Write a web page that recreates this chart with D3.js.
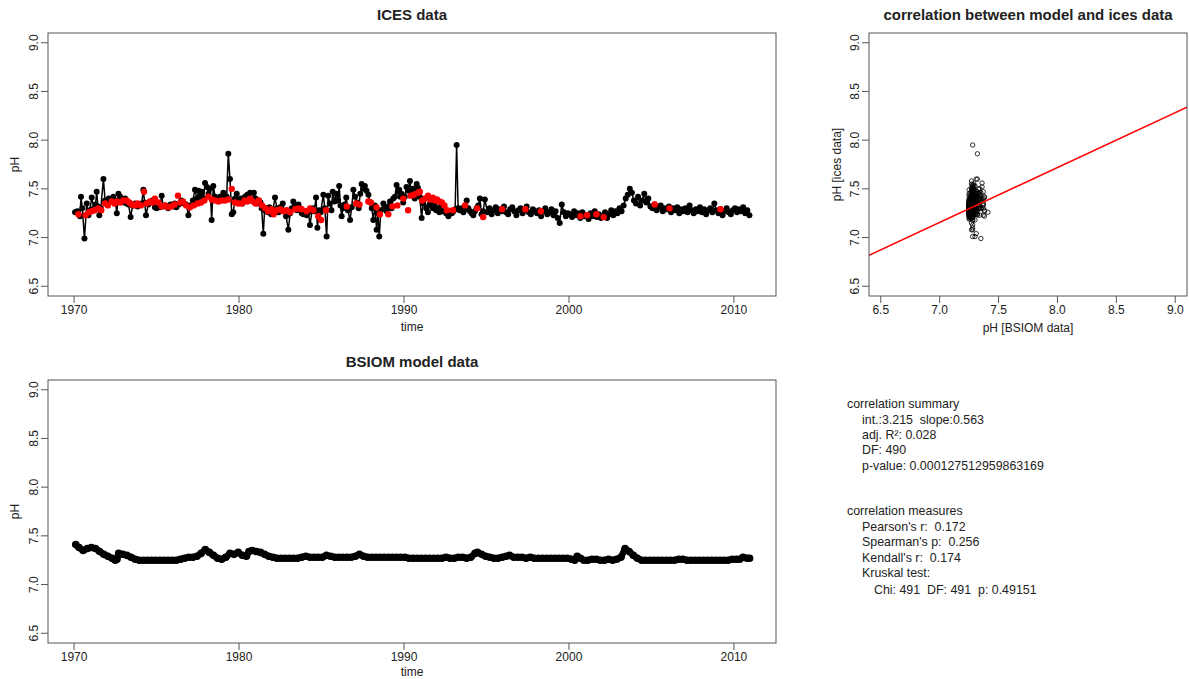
<!DOCTYPE html>
<html><head><meta charset="utf-8">
<script src="https://cdn.jsdelivr.net/npm/d3@7"></script>
<style>body{margin:0;background:#fff} text{font-family:"Liberation Sans",Arial,Helvetica,sans-serif;fill:#222;white-space:pre}</style>
</head><body><svg id="c" width="1189" height="679"></svg>
<script>
// ---------- DATA ----------
// ICES pH measurements (black), irregular sampling 1970–1994
const icesBlack = [
[1970.06,7.26],[1970.2,7.27],[1970.36,7.22],[1970.42,7.42],[1970.5,7.30],[1970.63,6.99],[1970.77,7.35],[1970.87,7.23],[1970.95,7.28],[1971.07,7.41],[1971.2,7.30],[1971.3,7.34],[1971.37,7.47],[1971.45,7.32],[1971.53,7.23],[1971.62,7.30],[1971.78,7.60],[1971.88,7.38],[1971.98,7.37],[1972.1,7.40],[1972.2,7.38],[1972.3,7.39],[1972.38,7.42],[1972.5,7.38],[1972.59,7.25],[1972.69,7.45],[1972.8,7.42],[1972.9,7.38],[1973.0,7.36],[1973.1,7.40],[1973.2,7.35],[1973.3,7.34],[1973.43,7.21],[1973.55,7.33],[1973.7,7.35],[1973.85,7.32],[1974.0,7.34],[1974.1,7.35],[1974.2,7.49],[1974.28,7.36],[1974.36,7.23],[1974.5,7.34],[1974.6,7.36],[1974.75,7.38],[1974.9,7.31],[1975.0,7.30],[1975.1,7.33],[1975.2,7.31],[1975.31,7.43],[1975.4,7.32],[1975.55,7.33],[1975.7,7.30],[1975.85,7.34],[1976.0,7.32],[1976.1,7.35],[1976.2,7.31],[1976.35,7.34],[1976.5,7.38],[1976.65,7.35],[1976.8,7.34],[1976.93,7.23],[1977.05,7.33],[1977.2,7.38],[1977.33,7.49],[1977.45,7.40],[1977.55,7.48],[1977.65,7.42],[1977.75,7.47],[1977.85,7.40],[1977.94,7.56],[1978.05,7.52],[1978.15,7.45],[1978.25,7.50],[1978.34,7.18],[1978.44,7.53],[1978.55,7.42],[1978.65,7.40],[1978.75,7.38],[1978.85,7.42],[1978.95,7.40],[1979.05,7.46],[1979.15,7.43],[1979.25,7.42],[1979.35,7.86],[1979.45,7.60],[1979.56,7.24],[1979.65,7.26],[1979.75,7.40],[1979.86,7.45],[1979.95,7.38],[1980.1,7.40],[1980.2,7.35],[1980.36,7.42],[1980.5,7.44],[1980.6,7.39],[1980.67,7.46],[1980.8,7.38],[1980.9,7.46],[1981.0,7.40],[1981.1,7.35],[1981.2,7.38],[1981.3,7.36],[1981.37,7.30],[1981.47,7.04],[1981.55,7.28],[1981.65,7.30],[1981.75,7.26],[1981.85,7.31],[1981.95,7.24],[1982.05,7.28],[1982.18,7.41],[1982.3,7.30],[1982.4,7.26],[1982.5,7.31],[1982.65,7.35],[1982.75,7.27],[1982.85,7.22],[1982.99,7.08],[1983.1,7.25],[1983.2,7.30],[1983.29,7.37],[1983.4,7.33],[1983.5,7.28],[1983.6,7.34],[1983.7,7.30],[1983.8,7.25],[1983.9,7.24],[1984.0,7.27],[1984.1,7.23],[1984.2,7.26],[1984.3,7.13],[1984.45,7.30],[1984.55,7.27],[1984.67,7.41],[1984.75,7.10],[1984.85,7.28],[1984.95,7.26],[1985.11,7.44],[1985.2,7.30],[1985.31,7.01],[1985.4,7.43],[1985.5,7.35],[1985.6,7.28],[1985.68,7.47],[1985.8,7.37],[1985.9,7.45],[1986.0,7.38],[1986.07,7.53],[1986.15,7.33],[1986.22,7.22],[1986.3,7.30],[1986.4,7.34],[1986.5,7.41],[1986.6,7.28],[1986.73,7.18],[1986.83,7.31],[1986.93,7.49],[1987.03,7.42],[1987.15,7.36],[1987.25,7.30],[1987.35,7.45],[1987.43,7.55],[1987.53,7.50],[1987.63,7.53],[1987.73,7.48],[1987.84,7.44],[1987.95,7.36],[1988.05,7.30],[1988.14,7.18],[1988.24,7.33],[1988.34,7.08],[1988.42,7.25],[1988.5,7.01],[1988.6,7.28],[1988.75,7.35],[1988.85,7.30],[1988.95,7.27],[1989.05,7.32],[1989.15,7.37],[1989.25,7.30],[1989.35,7.40],[1989.45,7.42],[1989.55,7.54],[1989.63,7.47],[1989.71,7.49],[1989.78,7.42],[1989.85,7.45],[1989.95,7.36],[1990.05,7.42],[1990.15,7.52],[1990.25,7.48],[1990.36,7.58],[1990.45,7.45],[1990.55,7.50],[1990.65,7.40],[1990.77,7.55],[1990.85,7.51],[1990.95,7.42],[1991.07,7.20],[1991.15,7.35],[1991.25,7.40],[1991.35,7.30],[1991.45,7.26],[1991.55,7.34],[1991.65,7.38],[1991.75,7.30],[1991.85,7.33],[1991.95,7.28],[1992.05,7.30],[1992.15,7.26],[1992.25,7.34],[1992.35,7.27],[1992.45,7.30],[1992.55,7.25],[1992.69,7.22],[1992.8,7.27],[1992.9,7.25],[1993.0,7.27],[1993.1,7.29],[1993.19,7.95],[1993.28,7.30],[1993.38,7.28],[1993.5,7.30],[1993.6,7.26],[1993.7,7.29],[1993.8,7.38],[1993.9,7.30],[1994.0,7.27],[1994.1,7.25],[1994.2,7.23],[1994.3,7.27],[1994.4,7.30],[1994.5,7.33],[1994.6,7.40],[1994.7,7.24],[1994.8,7.27],[1994.9,7.39]
];
// ICES pH (black), dense sampling 1995–2010: one row per year, 8 samples each
const icesDenseYears = [1995,1996,1997,1998,1999,2000,2001,2002,2003,2004,2005,2006,2007,2008,2009,2010];
const icesDenseValues = [
[7.26,7.30,7.24,7.28,7.31,7.25,7.29,7.27],
[7.32,7.26,7.24,7.29,7.31,7.27,7.23,7.28],
[7.30,7.25,7.28,7.32,7.26,7.24,7.29,7.27],
[7.25,7.28,7.22,7.27,7.30,7.24,7.26,7.29],
[7.23,7.27,7.20,7.15,7.34,7.26,7.22,7.25],
[7.24,7.21,7.27,7.23,7.25,7.20,7.26,7.22],
[7.23,7.19,7.25,7.22,7.27,7.21,7.24,7.20],
[7.22,7.26,7.20,7.24,7.28,7.23,7.27,7.25],
[7.30,7.27,7.33,7.40,7.44,7.50,7.46,7.38],
[7.35,7.42,7.33,7.38,7.45,7.36,7.40,7.32],
[7.30,7.34,7.28,7.31,7.33,7.27,7.30,7.29],
[7.32,7.26,7.30,7.28,7.31,7.25,7.29,7.27],
[7.30,7.26,7.33,7.28,7.25,7.29,7.27,7.31],
[7.26,7.29,7.24,7.28,7.30,7.26,7.35,7.28],
[7.25,7.29,7.23,7.27,7.30,7.26,7.24,7.28],
[7.30,7.26,7.29,7.27,7.31,7.25,7.28,7.23]
];
// ICES pH (red points)
const icesRed = [
[1970.26,7.24],[1970.7,7.23],[1970.9,7.26],[1971.07,7.27],[1971.25,7.28],[1971.47,7.30],[1971.65,7.28],[1971.88,7.35],[1972.05,7.33],[1972.28,7.37],[1972.45,7.35],[1972.6,7.37],[1972.8,7.36],[1973.0,7.38],[1973.19,7.38],[1973.35,7.36],[1973.5,7.34],[1973.7,7.33],[1973.85,7.35],[1974.05,7.33],[1974.24,7.47],[1974.4,7.35],[1974.6,7.37],[1974.75,7.36],[1974.9,7.40],[1975.1,7.36],[1975.31,7.32],[1975.5,7.33],[1975.7,7.31],[1975.9,7.32],[1976.1,7.34],[1976.3,7.43],[1976.45,7.36],[1976.6,7.37],[1976.8,7.33],[1977.03,7.31],[1977.25,7.33],[1977.5,7.35],[1977.7,7.36],[1977.9,7.38],[1978.14,7.42],[1978.35,7.39],[1978.55,7.38],[1978.75,7.37],[1978.95,7.38],[1979.15,7.38],[1979.35,7.39],[1979.56,7.50],[1979.75,7.36],[1979.95,7.35],[1980.16,7.35],[1980.35,7.38],[1980.5,7.37],[1980.67,7.40],[1980.85,7.37],[1981.0,7.35],[1981.2,7.38],[1981.4,7.33],[1981.6,7.30],[1981.77,7.27],[1981.95,7.29],[1982.1,7.24],[1982.3,7.28],[1982.5,7.29],[1982.69,7.27],[1982.9,7.28],[1983.1,7.26],[1983.4,7.29],[1983.6,7.30],[1983.8,7.29],[1984.1,7.27],[1984.3,7.30],[1984.5,7.28],[1984.8,7.22],[1984.97,7.18],[1985.27,7.28],[1986.53,7.32],[1987.1,7.35],[1987.3,7.34],[1987.84,7.37],[1988.0,7.36],[1988.34,7.31],[1988.54,7.24],[1989.05,7.24],[1989.3,7.32],[1989.6,7.33],[1989.96,7.40],[1990.25,7.28],[1990.4,7.43],[1990.6,7.44],[1990.86,7.46],[1990.96,7.47],[1991.1,7.38],[1991.3,7.40],[1991.46,7.43],[1991.6,7.39],[1991.75,7.41],[1991.9,7.38],[1992.0,7.39],[1992.15,7.37],[1992.3,7.36],[1992.45,7.33],[1992.6,7.28],[1992.97,7.28],[1993.7,7.33],[1994.44,7.30],[1994.8,7.21],[1995.95,7.29],[1997.36,7.29],[1998.3,7.27],[2000.7,7.22],[2001.1,7.23],[2001.67,7.24],[2002.1,7.21],[2005.2,7.34],[2006.1,7.30],[2009.19,7.29]
];
// BSIOM model pH
const modelData = [
[1970.1,7.41],[1970.3,7.38],[1970.55,7.35],[1970.8,7.37],[1971.05,7.38],[1971.3,7.37],[1971.55,7.34],[1971.8,7.31],[1972.05,7.29],[1972.3,7.27],[1972.5,7.25],[1972.6,7.26],[1972.7,7.32],[1972.95,7.31],[1973.2,7.30],[1973.45,7.28],[1973.7,7.26],[1973.95,7.25],[1974.2,7.25],[1974.45,7.25],[1974.7,7.25],[1974.95,7.25],[1975.2,7.25],[1975.45,7.25],[1975.7,7.25],[1975.95,7.25],[1976.2,7.25],[1976.45,7.26],[1976.7,7.27],[1976.95,7.28],[1977.2,7.28],[1977.45,7.29],[1977.7,7.32],[1977.95,7.36],[1978.2,7.33],[1978.45,7.30],[1978.7,7.27],[1978.95,7.26],[1979.2,7.28],[1979.45,7.32],[1979.7,7.31],[1979.95,7.33],[1980.2,7.30],[1980.45,7.29],[1980.6,7.34],[1980.8,7.35],[1981.05,7.34],[1981.3,7.33],[1981.55,7.31],[1981.8,7.29],[1982.05,7.28],[1982.3,7.27],[1982.55,7.27],[1982.8,7.27],[1983.05,7.27],[1983.3,7.27],[1983.55,7.27],[1983.8,7.28],[1984.05,7.29],[1984.3,7.28],[1984.55,7.28],[1984.8,7.28],[1985.05,7.28],[1985.3,7.30],[1985.55,7.29],[1985.8,7.28],[1986.05,7.28],[1986.3,7.28],[1986.55,7.28],[1986.8,7.28],[1987.05,7.29],[1987.3,7.31],[1987.55,7.29],[1987.8,7.28],[1988.05,7.28],[1988.3,7.28],[1988.55,7.28],[1988.8,7.28],[1989.05,7.28],[1989.3,7.28],[1989.55,7.28],[1989.8,7.28],[1990.05,7.28],[1990.3,7.27],[1990.55,7.27],[1990.8,7.27],[1991.05,7.27],[1991.3,7.27],[1991.55,7.27],[1991.8,7.27],[1992.05,7.27],[1992.3,7.27],[1992.55,7.28],[1992.8,7.27],[1993.05,7.27],[1993.3,7.28],[1993.55,7.28],[1993.8,7.27],[1994.05,7.28],[1994.3,7.32],[1994.45,7.33],[1994.7,7.31],[1994.95,7.29],[1995.2,7.28],[1995.45,7.27],[1995.7,7.27],[1995.95,7.28],[1996.2,7.29],[1996.4,7.30],[1996.65,7.28],[1996.9,7.28],[1997.15,7.28],[1997.4,7.27],[1997.65,7.28],[1997.9,7.27],[1998.15,7.27],[1998.4,7.27],[1998.65,7.27],[1998.9,7.27],[1999.15,7.27],[1999.4,7.27],[1999.65,7.27],[1999.9,7.27],[2000.15,7.26],[2000.35,7.25],[2000.5,7.29],[2000.7,7.27],[2000.9,7.25],[2001.15,7.25],[2001.4,7.26],[2001.65,7.26],[2001.9,7.25],[2002.15,7.25],[2002.4,7.26],[2002.65,7.25],[2002.9,7.26],[2003.15,7.28],[2003.4,7.37],[2003.65,7.34],[2003.9,7.30],[2004.15,7.27],[2004.4,7.25],[2004.65,7.25],[2004.9,7.25],[2005.15,7.25],[2005.4,7.25],[2005.65,7.25],[2005.9,7.25],[2006.15,7.25],[2006.4,7.25],[2006.65,7.26],[2006.9,7.26],[2007.15,7.25],[2007.4,7.25],[2007.65,7.25],[2007.9,7.25],[2008.15,7.25],[2008.4,7.25],[2008.65,7.25],[2008.9,7.25],[2009.15,7.25],[2009.4,7.25],[2009.65,7.25],[2009.9,7.26],[2010.15,7.26],[2010.35,7.26],[2010.55,7.28],[2010.8,7.27],[2010.95,7.27]
];
const phTicks = [6.5,7.0,7.5,8.0,8.5,9.0];
const yearTicks = [1970,1980,1990,2000,2010];
const regIntercept = 3.215, regSlope = 0.563;
const summaryTitle = "correlation summary";
const summaryLines = ["int.:3.215  slope:0.563","adj. R\u00B2: 0.028","DF: 490","p-value: 0.000127512959863169"];
const measuresTitle = "correlation measures";
const measuresLines = ["Pearson's r:  0.172","Spearman's p:  0.256","Kendall's r:  0.174","Kruskal test:"];
const kruskalLine = "Chi: 491  DF: 491  p: 0.49151";

// ---------- BUILD ----------
const svg = d3.select("#c");
const fmt1 = d3.format(".1f");
const AX = "#555";

const icesAll = icesBlack.concat(
  icesDenseYears.flatMap((y,i)=>icesDenseValues[i].map((v,j)=>[y+(j+0.5)/8, v])));

function frame(g, x, y, xt, yt, xfmt){
  const [x0,x1] = x.range(), [y0,y1] = y.range();
  g.append("rect").attr("x",x0).attr("y",y1).attr("width",x1-x0).attr("height",y0-y1)
    .attr("fill","none").attr("stroke",AX).attr("stroke-width",1);
  xt.forEach(t=>{
    g.append("line").attr("x1",x(t)).attr("x2",x(t)).attr("y1",y0).attr("y2",y0+7).attr("stroke",AX);
    g.append("text").attr("x",x(t)).attr("y",y0+18).attr("text-anchor","middle").attr("font-size",12).text(xfmt(t));
  });
  yt.forEach(t=>{
    g.append("line").attr("x1",x0-7).attr("x2",x0).attr("y1",y(t)).attr("y2",y(t)).attr("stroke",AX);
    g.append("text").attr("transform",`translate(${x0-10},${y(t)}) rotate(-90)`).attr("text-anchor","middle").attr("font-size",12).text(fmt1(t));
  });
}
function clip(id, x, y){
  const [x0,x1]=x.range(),[y0,y1]=y.range();
  svg.append("clipPath").attr("id",id).append("rect").attr("x",x0).attr("y",y1).attr("width",x1-x0).attr("height",y0-y1);
}

// Panel 1: ICES data
const x1 = d3.scaleLinear().domain([1968.42,2012.55]).range([48,776]);
const y1 = d3.scaleLinear().domain([6.4,9.1]).range([296,33]);
clip("c1",x1,y1);
const g1 = svg.append("g");
const p1 = g1.append("g").attr("clip-path","url(#c1)");
p1.append("path").datum(icesAll).attr("fill","none").attr("stroke","#000").attr("stroke-width",1.5)
  .attr("d", d3.line().x(d=>x1(d[0])).y(d=>y1(d[1])));
p1.selectAll(".b").data(icesAll).join("circle").attr("cx",d=>x1(d[0])).attr("cy",d=>y1(d[1])).attr("r",3).attr("fill","#000");
p1.selectAll(".r").data(icesRed).join("circle").attr("cx",d=>x1(d[0])).attr("cy",d=>y1(d[1])).attr("r",3.2).attr("fill","#ff0000");
frame(g1,x1,y1,yearTicks,phTicks,d3.format("d"));
g1.append("text").attr("x",412).attr("y",20).attr("text-anchor","middle").attr("font-size",15).attr("font-weight","bold").text("ICES data");
g1.append("text").attr("x",412).attr("y",331).attr("text-anchor","middle").attr("font-size",12).text("time");
g1.append("text").attr("transform","translate(19,164.5) rotate(-90)").attr("text-anchor","middle").attr("font-size",12).text("pH");

// Panel 3: BSIOM model data
const x3 = d3.scaleLinear().domain([1968.42,2012.55]).range([48,776]);
const y3 = d3.scaleLinear().domain([6.4,9.1]).range([643,380]);
clip("c3",x3,y3);
const g3 = svg.append("g");
const p3 = g3.append("g").attr("clip-path","url(#c3)");
p3.append("path").datum(modelData).attr("fill","none").attr("stroke","#000").attr("stroke-width",6.5)
  .attr("stroke-linejoin","round").attr("stroke-linecap","round")
  .attr("d", d3.line().x(d=>x3(d[0])).y(d=>y3(d[1])));
p3.selectAll("circle").data(modelData).join("circle").attr("cx",d=>x3(d[0])).attr("cy",d=>y3(d[1])).attr("r",3.8).attr("fill","#000");
frame(g3,x3,y3,yearTicks,phTicks,d3.format("d"));
g3.append("text").attr("x",412).attr("y",367).attr("text-anchor","middle").attr("font-size",15).attr("font-weight","bold").text("BSIOM model data");
g3.append("text").attr("x",412).attr("y",676).attr("text-anchor","middle").attr("font-size",12).text("time");
g3.append("text").attr("transform","translate(19,511.5) rotate(-90)").attr("text-anchor","middle").attr("font-size",12).text("pH");

// Panel 2: scatter
const x2 = d3.scaleLinear().domain([6.4,9.1]).range([869,1187]);
const y2 = d3.scaleLinear().domain([6.4,9.1]).range([296,33]);
clip("c2",x2,y2);
const bis = d3.bisector(d=>d[0]).center;
const pairs = icesAll.map(d=>[modelData[bis(modelData,d[0])][1], d[1]]);
const g2 = svg.append("g");
const p2 = g2.append("g").attr("clip-path","url(#c2)");
p2.selectAll("circle").data(pairs).join("circle").attr("cx",d=>x2(d[0])).attr("cy",d=>y2(d[1])).attr("r",2.2)
  .attr("fill","none").attr("stroke","#000").attr("stroke-width",0.8);
const xd = x2.domain();
p2.append("line").attr("x1",x2(xd[0])).attr("y1",y2(regIntercept+regSlope*xd[0]))
  .attr("x2",x2(xd[1])).attr("y2",y2(regIntercept+regSlope*xd[1])).attr("stroke","#ff0000").attr("stroke-width",1.6);
frame(g2,x2,y2,phTicks,phTicks,fmt1);
g2.append("text").attr("x",1028).attr("y",20).attr("text-anchor","middle").attr("font-size",15).attr("font-weight","bold").text("correlation between model and ices data");
g2.append("text").attr("x",1028).attr("y",332).attr("text-anchor","middle").attr("font-size",12).text("pH [BSIOM data]");
g2.append("text").attr("transform","translate(841,164.5) rotate(-90)").attr("text-anchor","middle").attr("font-size",12).text("pH [ices data]");

// Text panel
const FS = 12.4;
const gt = svg.append("g");
gt.append("text").attr("x",847).attr("y",408).attr("font-size",FS).text(summaryTitle);
summaryLines.forEach((s,i)=>gt.append("text").attr("x",862).attr("y",423.5+i*15.4).attr("font-size",FS).text(s));
gt.append("text").attr("x",847).attr("y",515).attr("font-size",FS).text(measuresTitle);
measuresLines.forEach((s,i)=>gt.append("text").attr("x",862).attr("y",530.5+i*15.6).attr("font-size",FS).text(s));
gt.append("text").attr("x",874).attr("y",593.5).attr("font-size",FS).text(kruskalLine);
</script></body></html>
